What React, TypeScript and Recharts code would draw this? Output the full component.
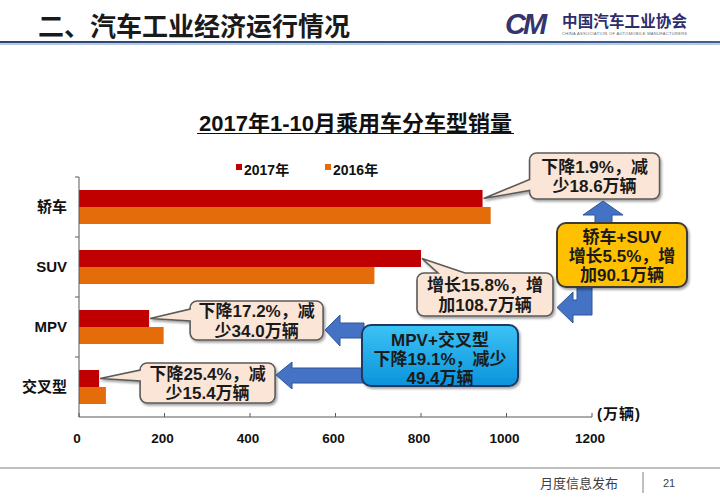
import React from "react";
import { BarChart, Bar, XAxis, YAxis, ReferenceDot } from "recharts";

const categories = ["轿车", "SUV", "MPV", "交叉型"];
const sales2017 = [944, 800, 164, 47];
const sales2016 = [963, 691, 198, 63];
const seriesNames = ["2017年", "2016年"];
const seriesColors = ["#C00000", "#E46C0A"];
const xTicks = [0, 200, 400, 600, 800, 1000, 1200];

const calloutText = [
  ["下降1.9%，减", "少18.6万辆"],
  ["增长15.8%，增", "加108.7万辆"],
  ["下降17.2%，减", "少34.0万辆"],
  ["下降25.4%，减", "少15.4万辆"],
];
const sumUpText = ["轿车+SUV", "增长5.5%，增", "加90.1万辆"];
const sumDownText = ["MPV+交叉型", "下降19.1%，减少", "49.4万辆"];

const rows = categories.map((name, i) => ({
  name,
  y2017: sales2017[i],
  y2016: sales2016[i],
}));

// box placement relative to the tail tip (end of the 2017 bar)
const calloutLayout = [
  { dx: 46, dy: -45.5, w: 130, h: 46, side: "left", t1: -19, t2: -8 },
  { dx: -5, dy: 14.5, w: 136, h: 43, side: "top", t1: 21, t2: 48 },
  { dx: 40, dy: -17.5, w: 133, h: 39, side: "left", t1: -9.5, t2: 2.5 },
  { dx: 40, dy: -15.5, w: 135, h: 40, side: "left", t1: -8.5, t2: 2.5 },
];

const FONT = "'Liberation Sans', Arial, 'Noto Sans CJK SC', sans-serif";
const CJK = "'Noto Sans CJK SC', sans-serif";
const AXIS = "#595959";

function bubblePath(tx: number, ty: number, L: any) {
  const x = tx + L.dx;
  const y = ty + L.dy;
  const w = L.w;
  const h = L.h;
  const r = 7;
  if (L.side === "top") {
    return `M${x + r},${y} H${x + L.t1} L${tx},${ty} L${x + L.t2},${y} H${x + w - r} A${r},${r} 0 0 1 ${x + w},${y + r} V${y + h - r} A${r},${r} 0 0 1 ${x + w - r},${y + h} H${x + r} A${r},${r} 0 0 1 ${x},${y + h - r} V${y + r} A${r},${r} 0 0 1 ${x + r},${y} Z`;
  }
  return `M${x + r},${y} H${x + w - r} A${r},${r} 0 0 1 ${x + w},${y + r} V${y + h - r} A${r},${r} 0 0 1 ${x + w - r},${y + h} H${x + r} A${r},${r} 0 0 1 ${x},${y + h - r} V${ty + L.t2} L${tx},${ty} L${x},${ty + L.t1} V${y + r} A${r},${r} 0 0 1 ${x + r},${y} Z`;
}

const makeBubble = (i: number) => (props: any) => {
  const { cx, cy } = props;
  if (cx == null || cy == null) return <g />;
  const L = calloutLayout[i];
  const tx = cx + 1;
  const ty = cy - 8.5;
  const bx = tx + L.dx + L.w / 2;
  const by = ty + L.dy + L.h / 2;
  return (
    <g>
      <path
        d={bubblePath(tx, ty, L)}
        fill="#FBE5D6"
        stroke="#5a5a5a"
        strokeWidth={1.6}
        filter="url(#softShadow)"
      />
      {calloutText[i].map((t, k) => (
        <text
          key={k}
          x={bx}
          y={by - 9.5 + k * 19.5 + 6}
          textAnchor="middle"
          fontFamily={FONT}
          fontWeight="bold"
          fontSize={17}
          fill="#1a1a1a"
        >
          {t}
        </text>
      ))}
    </g>
  );
};

const XTick = (props: any) => {
  const { x, y, payload } = props;
  return (
    <g>
      <line x1={x} x2={x} y1={y} y2={y - 4} stroke={AXIS} />
      <text
        x={x - 2}
        y={y + 25.5}
        textAnchor="middle"
        fontFamily={FONT}
        fontWeight="bold"
        fontSize={13.5}
        fill="#111"
      >
        {payload.value}
      </text>
    </g>
  );
};

const YTick = (props: any) => {
  const { x, y, payload } = props;
  return (
    <g>
      <line x1={x - 4} x2={x} y1={y - 30} y2={y - 30} stroke={AXIS} />
      <text
        x={x - 12}
        y={y + 5}
        textAnchor="end"
        fontFamily={FONT}
        fontWeight="bold"
        fontSize={15}
        fill="#111"
      >
        {payload.value}
      </text>
    </g>
  );
};

function Overlay() {
  const boxText = (lines: string[], cx: number, top: number) =>
    lines.map((t, k) => (
      <text
        key={k}
        x={cx}
        y={top + k * 19 + 6}
        textAnchor="middle"
        fontFamily={FONT}
        fontWeight="bold"
        fontSize={17}
        fill="#1a1a1a"
      >
        {t}
      </text>
    ));
  return (
    <svg
      width={720}
      height={498}
      style={{ position: "absolute", left: 0, top: 0, pointerEvents: "none" }}
    >
      <defs>
        <filter id="softShadow" x="-20%" y="-20%" width="140%" height="150%">
          <feDropShadow dx="1.5" dy="2" stdDeviation="1.2" floodColor="#000" floodOpacity="0.35" />
        </filter>
        <linearGradient id="blueFill" x1="0" y1="0" x2="0" y2="1">
          <stop offset="0" stopColor="#3CC3F5" />
          <stop offset="1" stopColor="#0B93DB" />
        </linearGradient>
        <linearGradient id="headLine" x1="0" y1="0" x2="1" y2="0">
          <stop offset="0" stopColor="#2a4670" />
          <stop offset="1" stopColor="#3e6291" />
        </linearGradient>
      </defs>

      {/* header */}
      <text x={38} y={36} fontFamily={CJK} fontWeight="bold" fontSize={26} fill="#1a1a1a">
        二、汽车工业经济运行情况
      </text>
      <text
        x={505}
        y={34}
        fontFamily={FONT}
        fontStyle="italic"
        fontWeight="bold"
        fontSize={29}
        letterSpacing={-3}
        fill="#34346e"
      >
        CM
      </text>
      <text x={562} y={27} fontFamily={CJK} fontWeight="bold" fontSize={15.5} fill="#2d2d6a" textLength={125}>
        中国汽车工业协会
      </text>
      <text x={562} y={35} fontFamily={FONT} fontSize={4} fill="#666" textLength={125}>
        CHINA ASSOCIATION OF AUTOMOBILE MANUFACTURERS
      </text>
      <rect x={0} y={41} width={720} height={2.2} fill="url(#headLine)" />
      <rect x={0} y={43.2} width={720} height={1.8} fill="#b8c8dc" />

      {/* chart title */}
      <text x={355.5} y={131} textAnchor="middle" fontFamily={FONT} fontWeight="bold" fontSize={22} fill="#111">
        2017年1-10月乘用车分车型销量
      </text>
      <line x1={197} x2={514} y1={133.5} y2={133.5} stroke="#111" strokeWidth={1.2} />

      {/* legend */}
      {seriesNames.map((n, i) => (
        <g key={n}>
          <rect x={236 + i * 89} y={164} width={6} height={6} fill={seriesColors[i]} />
          <text x={244 + i * 89} y={175} fontFamily={FONT} fontWeight="bold" fontSize={14} fill="#111">
            {n}
          </text>
        </g>
      ))}

      <text x={597} y={419} fontFamily={FONT} fontWeight="bold" fontSize={15} fill="#111" letterSpacing={1}>
        (万辆)
      </text>

      {/* arrows */}
      <g fill="#4472C4" stroke="#2F5597" strokeWidth={1}>
        <polygon points="325,330 340,315 340,323 364,323 364,338 340,338 340,346" />
        <polygon points="276,375 292,362 292,368 364,368 364,383 292,383 292,389" />
        <polygon points="603,201 623,215 612,215 612,226 595,226 595,215 583,215" />
        <polygon points="577,285 592,285 592,315 573,315 573,323 557,307.5 573,292 573,300 577,300" />
      </g>

      {/* summary boxes */}
      <rect x={362} y={325} width={156} height={61} rx={9} fill="url(#blueFill)" stroke="#1F3864" strokeWidth={2} filter="url(#softShadow)" />
      {boxText(sumDownText, 440, 340)}
      <rect x={557} y={223} width={130} height={64} rx={9} fill="#FFC000" stroke="#3a3a3a" strokeWidth={2} filter="url(#softShadow)" />
      {boxText(sumUpText, 622, 237)}

      {/* footer */}
      <line x1={0} x2={720} y1={468} y2={468} stroke="#808080" strokeWidth={1.2} />
      <line x1={643} x2={643} y1={472} y2={493} stroke="#808080" strokeWidth={1} />
      <text x={540} y={488} fontFamily={CJK} fontSize={13} fill="#404040">
        月度信息发布
      </text>
      <text x={669} y={487} textAnchor="middle" fontFamily={FONT} fontSize={11} fill="#404040">
        21
      </text>
    </svg>
  );
}

export default function App() {
  return (
    <div style={{ position: "absolute", left: 0, top: 0, width: 720, height: 498, background: "#fff" }}>
      <BarChart
        width={720}
        height={498}
        data={rows}
        layout="vertical"
        margin={{ top: 177, right: 128, bottom: 51, left: 19 }}
        barGap={0}
        barSize={17}
      >
        <XAxis
          type="number"
          domain={[0, 1200]}
          ticks={xTicks}
          interval={0}
          height={30}
          tickSize={0}
          tickMargin={0}
          tickLine={false}
          tick={<XTick />}
          axisLine={{ stroke: AXIS }}
        />
        <YAxis
          type="category"
          dataKey="name"
          width={60}
          interval={0}
          tickSize={0}
          tickMargin={0}
          tickLine={false}
          tick={<YTick />}
          axisLine={{ stroke: AXIS }}
        />
        <Bar dataKey="y2017" name={seriesNames[0]} fill={seriesColors[0]} isAnimationActive={false} />
        <Bar dataKey="y2016" name={seriesNames[1]} fill={seriesColors[1]} isAnimationActive={false} />
        {categories.map((c, i) => (
          <ReferenceDot
            key={c}
            x={sales2017[i]}
            y={c}
            r={0}
            ifOverflow="visible"
            shape={makeBubble(i)}
          />
        ))}
      </BarChart>
      <Overlay />
    </div>
  );
}
